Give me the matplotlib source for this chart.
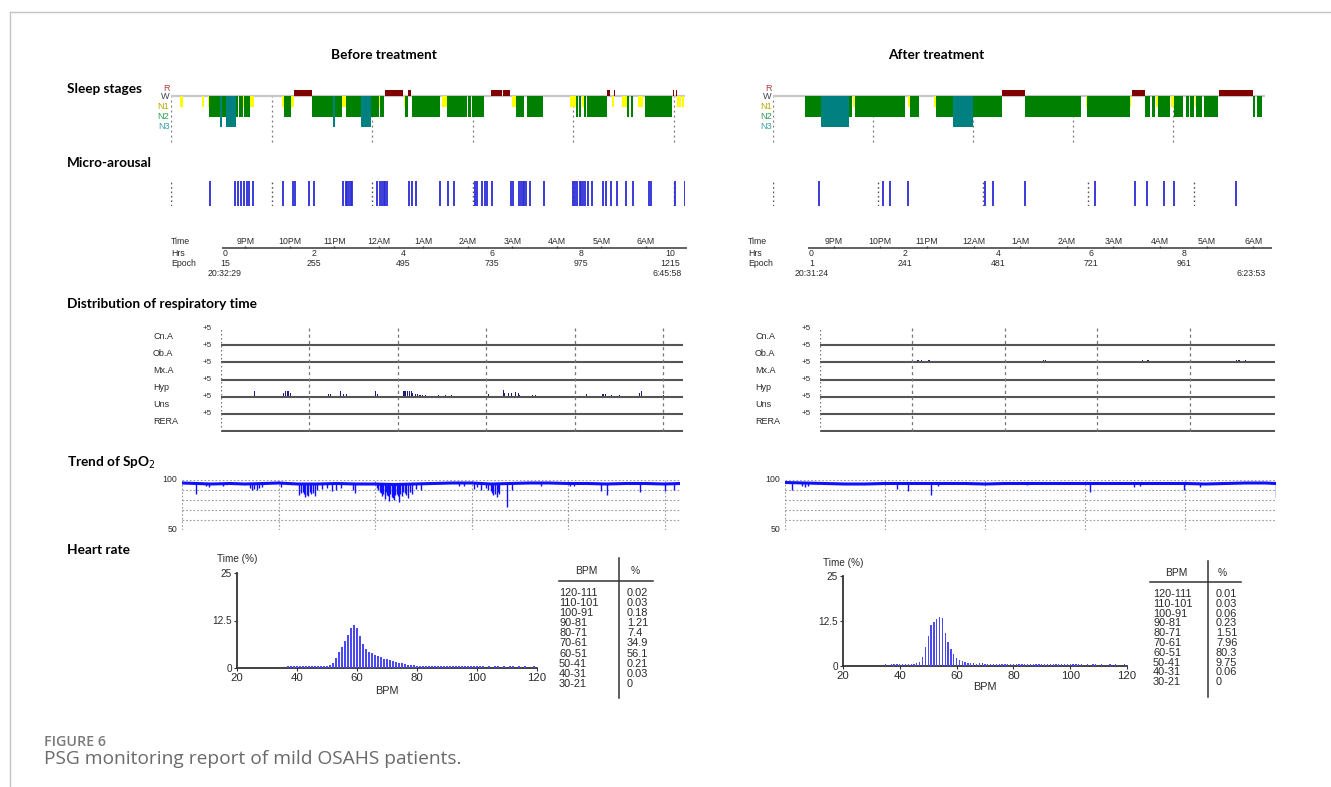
import matplotlib
matplotlib.use("Agg")
import numpy as np
import matplotlib.pyplot as plt
from matplotlib.lines import Line2D

# ---------------------------------------------------------------- data
# hypnogram segments: (start hr, end hr, stage)
before_hypno = [
    (0.18, 0.23, "N1"), (0.62, 0.66, "N1"), (0.73, 0.76, "N1"),
    (0.76, 0.79, "N2"), (0.80, 0.85, "N2"), (0.86, 0.97, "N2"),
    (0.97, 1.02, "N3"), (1.02, 1.10, "N2"), (1.10, 1.29, "N3"),
    (1.29, 1.34, "N2"), (1.35, 1.44, "N2"), (1.44, 1.46, "N1"),
    (1.46, 1.58, "N2"), (1.58, 1.66, "N1"),
    (2.20, 2.24, "N1"), (2.24, 2.39, "N2"), (2.39, 2.45, "N1"), (2.45, 2.80, "R"),
    (2.80, 3.22, "N2"), (3.22, 3.26, "N3"), (3.26, 3.40, "N2"), (3.40, 3.47, "N1"),
    (3.47, 3.59, "N2"), (3.60, 3.78, "N2"), (3.78, 3.97, "N3"), (3.97, 4.07, "N2"),
    (4.08, 4.13, "N2"), (4.13, 4.16, "N1"), (4.16, 4.23, "N2"),
    (4.26, 4.62, "R"), (4.63, 4.66, "N1"), (4.66, 4.71, "N2"), (4.71, 4.77, "R"),
    (4.79, 4.85, "N2"), (4.86, 5.35, "N2"), (5.39, 5.48, "N1"),
    (5.48, 5.60, "N2"), (5.61, 5.89, "N2"), (5.90, 5.97, "N2"), (5.98, 6.22, "N2"),
    (6.37, 6.58, "R"), (6.61, 6.75, "R"), (6.78, 6.86, "N1"), (6.86, 7.01, "N2"),
    (7.08, 7.39, "N2"),
    (7.93, 8.05, "N1"), (8.05, 8.10, "N2"), (8.11, 8.16, "N2"), (8.17, 8.21, "N1"),
    (8.21, 8.26, "N2"), (8.27, 8.67, "N2"), (8.67, 8.73, "R"), (8.76, 8.80, "N1"),
    (8.81, 8.83, "R"), (8.96, 9.07, "N1"), (9.07, 9.10, "N2"), (9.15, 9.19, "N2"),
    (9.29, 9.38, "N1"), (9.42, 9.46, "N2"), (9.47, 9.96, "N2"), (9.98, 10.01, "R"),
    (10.04, 10.07, "R"), (10.07, 10.14, "N1"), (10.17, 10.21, "N1"), (10.22, 10.26, "N2"),
]
after_hypno = [
    (0.64, 0.96, "N2"), (0.96, 1.53, "N3"), (1.53, 1.59, "N2"), (1.61, 1.65, "N1"),
    (1.65, 2.65, "N2"), (2.71, 2.75, "N1"), (2.75, 2.92, "N2"),
    (3.22, 3.26, "N1"), (3.26, 3.61, "N2"), (3.61, 4.01, "N3"), (4.01, 4.58, "N2"),
    (4.58, 5.04, "R"), (5.04, 6.16, "N2"),
    (6.26, 6.29, "N1"), (6.29, 7.14, "N2"), (7.14, 7.16, "N1"), (7.18, 7.44, "R"),
    (7.44, 7.54, "N2"), (7.59, 7.65, "N2"), (7.67, 7.70, "N1"), (7.71, 7.95, "N2"),
    (7.97, 8.02, "N1"), (8.03, 8.20, "N2"), (8.26, 8.32, "N2"), (8.34, 8.42, "N2"),
    (8.44, 8.47, "N1"), (8.47, 8.58, "N2"), (8.63, 8.90, "N2"),
    (8.92, 9.60, "R"), (9.61, 9.65, "N2"), (9.68, 9.79, "N2"),
]
before_end, after_end = 10.22, 9.85

# micro-arousal event times (hr)
before_arousal = [0.77, 1.27, 1.33, 1.39, 1.45, 1.51, 1.56, 1.63, 2.22, 2.42, 2.47,
                  2.75, 2.84, 3.42, 3.47, 3.50, 3.53, 3.57, 3.60, 4.10, 4.15, 4.19,
                  4.23, 4.25, 4.30, 4.74, 4.79, 4.87, 5.35, 5.51, 5.62, 6.05, 6.09,
                  6.18, 6.24, 6.29, 6.38, 6.76, 6.80, 6.91, 6.95, 6.99, 7.02, 7.06,
                  7.13, 7.42, 8.00, 8.04, 8.08, 8.13, 8.15, 8.19, 8.23, 8.29, 8.37,
                  8.58, 8.65, 8.75, 8.87, 9.04, 9.18, 9.51, 9.54, 10.03, 10.22]
after_arousal = [0.93, 2.21, 2.34, 2.70, 4.25, 4.41, 5.05, 6.44, 7.24, 7.49, 7.82,
                 8.02, 9.26]
before_arousal_marks = [0, 2, 4, 6, 8, 10]
after_arousal_marks = [0, 2.11, 4.21, 6.31, 8.42]

# time axis
clock_labels = ["9PM", "10PM", "11PM", "12AM", "1AM", "2AM", "3AM", "4AM", "5AM", "6AM"]
before_first_clock, after_first_clock = 0.458, 0.477
before_hrs = [0, 2, 4, 6, 8, 10]
before_epoch = [15, 255, 495, 735, 975, 1215]
after_hrs = [0, 2, 4, 6, 8]
after_epoch = [1, 241, 481, 721, 961]
before_start, before_stop = "20:32:29", "6:45:58"
after_start, after_stop = "20:31:24", "6:23:53"

# respiratory events
resp_rows = ["Cn.A", "Ob.A", "Mx.A", "Hyp", "Uns", "RERA"]
before_resp_row = "Hyp"
before_resp_t = [0.75, 1.42, 1.46, 1.50, 1.53, 1.57, 2.43, 2.47, 2.70, 2.78, 2.83,
                 3.50, 3.53, 4.14, 4.18, 4.22, 4.26, 4.30, 4.34, 4.40, 4.45, 4.50,
                 4.55, 4.63, 4.91, 5.07, 5.21, 6.06, 6.38, 6.42, 6.50, 6.58, 6.66,
                 6.72, 6.76, 7.04, 7.11, 8.26, 8.64, 8.70, 8.83, 9.01, 9.47, 9.52,
                 10.00]
before_resp_h = [0.35, 0.20, 0.30, 0.35, 0.30, 0.20, 0.15, 0.15, 0.30, 0.15, 0.15,
                 0.30, 0.15, 0.35, 0.35, 0.30, 0.35, 0.30, 0.20, 0.15, 0.15, 0.12,
                 0.12, 0.12, 0.10, 0.10, 0.12, 0.15, 0.40, 0.20, 0.20, 0.20, 0.25,
                 0.20, 0.10, 0.12, 0.12, 0.15, 0.15, 0.15, 0.12, 0.12, 0.20, 0.35,
                 0.12]
after_resp_row = "Ob.A"
after_resp_t = [2.12, 2.19, 2.36, 4.83, 4.88, 6.98, 7.10, 9.02, 9.07, 9.21]
after_resp_h = [0.15, 0.15, 0.15, 0.15, 0.15, 0.15, 0.15, 0.15, 0.15, 0.15]

# SpO2 trend: baseline points and desaturation minima
spo2_before_t = [0, 0.3, 0.6, 1.0, 1.3, 1.7, 2.0, 2.4, 2.8, 3.2, 3.6, 4.0, 4.4, 4.8,
                 5.2, 5.6, 6.0, 6.4, 6.8, 7.2, 7.6, 8.0, 8.4, 8.8, 9.2, 9.6, 10.0, 10.32]
spo2_before_v = [97, 96.5, 96, 96.5, 96, 96.5, 97, 96, 96, 96.5, 96, 96, 95.5, 96,
                 96.5, 97, 97, 96, 96.5, 97, 97, 96.5, 96.5, 96, 96.5, 96.5, 96, 96.5]
dip_before_t = [0.29, 0.50, 0.56, 0.84, 1.40, 1.45, 1.50, 1.55, 1.60, 1.66, 2.05,
                2.43, 2.47, 2.50, 2.52, 2.55, 2.58, 2.62, 2.65, 2.68, 2.72, 2.75,
                2.80, 2.90, 3.00, 3.10, 3.20, 3.29, 3.55, 3.59,
                4.05, 4.07, 4.10, 4.12, 4.15, 4.17, 4.20, 4.22, 4.25, 4.27, 4.30,
                4.32, 4.35, 4.37, 4.40, 4.42, 4.45, 4.47, 4.50, 4.52, 4.55, 4.57,
                4.62, 4.65, 4.68, 4.72, 4.76, 4.85, 4.95, 5.75, 5.85, 6.05,
                6.12, 6.20, 6.30, 6.35, 6.40, 6.42, 6.45, 6.48, 6.52, 6.55, 6.57,
                6.74, 6.83, 7.43, 8.05, 8.12, 8.68, 8.81, 9.50, 10.00, 10.19]
dip_before_v = [86, 94, 93, 94, 92, 90, 91, 90, 92, 93, 93,
                85, 87, 88, 86, 83, 85, 84, 88, 86, 87, 84,
                90, 91, 92, 89, 90, 92, 90, 87,
                92, 90, 88, 87, 84, 86, 81, 88, 85, 84, 79,
                86, 83, 82, 80, 85, 86, 84, 78, 86, 84, 88,
                87, 85, 82, 88, 86, 91, 90, 94, 94, 91,
                93, 90, 92, 90, 89, 87, 85, 86, 83, 88, 86,
                73, 90, 94, 94, 94, 89, 85, 88, 89, 90]
spo2_after_t = [0, 0.4, 0.8, 1.2, 1.6, 2.0, 2.4, 2.8, 3.2, 3.6, 4.0, 4.4, 4.8, 5.2,
                5.6, 6.0, 6.4, 6.8, 7.2, 7.6, 8.0, 8.4, 8.8, 9.2, 9.6, 9.8]
spo2_after_v = [97.5, 97, 96.5, 96, 96, 96.5, 96.5, 96.5, 96.5, 96.5, 96, 96.5, 96.5,
                96.5, 96.5, 96.5, 96.5, 96.5, 96.5, 96.5, 96.5, 96, 96.5, 97, 97, 96.5]
dip_after_t = [0.14, 0.33, 0.40, 0.45, 2.23, 2.46, 2.92, 3.06, 4.83, 6.10, 6.98,
               7.10, 7.97, 8.29, 9.81]
dip_after_v = [90, 94, 93, 94, 91, 89, 85, 94, 95, 88, 93, 94, 90, 93, 82]

# heart-rate histograms (% of time per BPM)
hr_before_bpm = list(range(37, 120))
hr_before_pct = [0.5, 0.5, 0.5, 0.5, 0.5, 0.5, 0.5, 0.5, 0.5, 0.5, 0.5, 0.5, 0.5, 0.6,
                 0.7, 1.2, 2.6, 4.1, 5.6, 7.0, 8.6, 10.4, 11.2, 10.6,
                 8.3, 6.3, 5.0, 4.3, 3.9, 3.5, 3.2, 2.8, 2.5, 2.3,
                 2.1, 1.9, 1.6, 1.4, 1.2, 1.0, 0.9, 0.8, 0.7, 0.6,
                 0.6, 0.55, 0.5, 0.5, 0.5, 0.5, 0.5, 0.5, 0.5, 0.5,
                 0.5, 0.5, 0.5, 0.5, 0.5, 0.5, 0.5, 0.5, 0.5, 0.5,
                 0.5, 0.5, 0.0, 0.5, 0.0, 0.5, 0.5, 0.0, 0.5, 0.0,
                 0.5, 0.5, 0.0, 0.5, 0.0, 0.5, 0.0, 0.0, 0.5]
hr_after_bpm = list(range(35, 120))
hr_after_pct = [0.45, 0.0, 0.45, 0.5, 0.5, 0.5, 0.5, 0.5, 0.5, 0.5, 0.5,
                0.7, 1.2, 2.6, 5.4, 8.4, 11.4, 12.3, 13.1, 13.5, 13.3,
                9.3, 6.8, 4.6, 3.3, 2.1, 1.6, 1.3, 1.1, 0.9, 0.8,
                0.7, 0.6, 0.8, 0.8, 0.6, 0.5, 0.45, 0.45, 0.45, 0.45,
                0.45, 0.45, 0.45, 0.45, 0.45, 0.45, 0.45, 0.45, 0.45, 0.45,
                0.45, 0.45, 0.45, 0.45, 0.45, 0.45, 0.45, 0.45, 0.45, 0.45,
                0.45, 0.45, 0.45, 0.45, 0.45, 0.45, 0.45, 0.45, 0.45, 0.0,
                0.45, 0.0, 0.45, 0.45, 0.0, 0.45, 0.0, 0.0, 0.45, 0.0,
                0.45, 0.0, 0.0, 0.45]

table_bpm = ["120-111", "110-101", "100-91", "90-81", "80-71", "70-61", "60-51",
             "50-41", "40-31", "30-21"]
table_before = ["0.02", "0.03", "0.18", "1.21", "7.4", "34.9", "56.1", "0.21", "0.03", "0"]
table_after = ["0.01", "0.03", "0.06", "0.23", "1.51", "7.96", "80.3", "9.75", "0.06", "0"]

# ---------------------------------------------------------------- style
W, H = 1331, 787
HEAD = ["Lato", "DejaVu Sans"]
REP = ["Liberation Sans", "DejaVu Sans"]
CAP = ["Open Sans", "DejaVu Sans"]
TXT = "#2a2a2a"

STAGE_DEPTH = {"R": 0.6, "N1": -1.05, "N2": -2.0, "N3": -3.0}
STAGE_COLOR = {"R": "#800000", "N1": "#ffff00", "N2": "#008000", "N3": "#008080"}
STAGE_LABELS = [("R", 0.75, "#b04040"), ("W", 0.0, "#404050"), ("N1", -1.0, "#b8a800"),
                ("N2", -2.0, "#2e9a50"), ("N3", -3.0, "#3aa0a8")]

fig = plt.figure(figsize=(W / 100, H / 100), dpi=100)


def px_ax(x0, y0, x1, y1):
    ax = fig.add_axes([x0 / W, 1 - y1 / H, (x1 - x0) / W, (y1 - y0) / H])
    ax.set_axis_off()
    return ax


def ftext(x, y, s, **kw):
    kw.setdefault("va", "center")
    fig.text(x / W, 1 - y / H, s, **kw)


def draw_hypno(box, segs, end, grid):
    ax = px_ax(*box)
    ax.set_xlim(0, end)
    ax.set_ylim(-4.6, 1.0)
    ax.hlines(0, 0, end, color="#c8c8c8", lw=1.6, zorder=1)
    ax.vlines(grid, -4.5, 0, color="#777777", ls=(0, (1.5, 2.5)), lw=0.9, zorder=0)
    for s, e, st in segs:
        ax.bar(s, STAGE_DEPTH[st], width=e - s, bottom=0, align="edge",
               color=STAGE_COLOR[st], lw=0, zorder=2)
    for lab, y, c in STAGE_LABELS:
        ax.text(-0.003, y, lab, transform=ax.get_yaxis_transform(), ha="right",
                va="center", fontsize=6.6, color=c, family=REP)


def draw_arousal(box, times, marks, end):
    ax = px_ax(*box)
    ax.set_xlim(0, end)
    ax.set_ylim(0, 1)
    ax.vlines(marks, 0, 1, color="#555555", ls=(0, (1.2, 2)), lw=1.0)
    ax.vlines(times, 0, 1, color="#2b2bd6", lw=1.3)


def draw_time(box, first, hrs, epochs, start, stop, line_end, label_x):
    ax = px_ax(*box)
    ax.set_xlim(0, 10)
    ax.set_ylim(282, 232)
    ax.hlines(247.5, -0.07, line_end, color="#555555", lw=1.3, clip_on=False)
    ticks = [first + k for k in range(len(clock_labels))]
    ax.vlines(ticks, 246, 247.5, color="#333333", lw=1.0)
    for t, lab in zip(ticks, clock_labels):
        ax.text(t, 241, lab, ha="center", va="center", fontsize=6.3, color=TXT, family=REP)
    for h, ep in zip(hrs, epochs):
        ax.text(h, 254, str(h), ha="center", va="center", fontsize=6.3, color=TXT, family=REP)
        ax.text(h, 264, str(ep), ha="center", va="center", fontsize=6.3, color=TXT, family=REP)
    ax.text(0, 274, start, ha="center", va="center", fontsize=6.3, color=TXT, family=REP)
    ax.text(line_end - 0.45, 274, stop, ha="center", va="center", fontsize=6.3,
            color=TXT, family=REP)
    for y, lab in zip([241, 253, 263.5], ["Time", "Hrs", "Epoch"]):
        ftext(label_x, y, lab, fontsize=6.3, color=TXT, family=REP)


def draw_resp(box, end, row, ev_t, ev_h, label_x):
    ax = px_ax(*box)
    ax.set_xlim(0, end)
    ax.set_ylim(-0.05, 6.05)
    ax.hlines(range(6), 0, end, color="#555555", lw=1.5)
    ax.vlines(0, 0, 6, color="#777777", ls=(0, (1.2, 2)), lw=0.9)
    ax.vlines([g for g in range(2, 11, 2) if g < end], 0, 6, color="#777777",
              ls=(0, (2.5, 2.5)), lw=0.9)
    base = 5 - resp_rows.index(row)
    ax.bar(ev_t, ev_h, width=0.025, bottom=base, color="#1c1c7a", lw=0)
    for i, name in enumerate(resp_rows):
        ax.text(-0.02, 6 - i, "+5", transform=ax.get_yaxis_transform(), ha="right",
                va="center", fontsize=5.8, color=TXT, family=REP)
        yy = box[3] - (box[3] - box[1]) * (5.55 - i + 0.05) / 6.1
        ftext(label_x, yy, name, fontsize=6.5, color=TXT, family=REP)


def draw_spo2(box, end, base_t, base_v, dip_t, dip_v, grid):
    ax = px_ax(*box)
    ax.set_xlim(0, end)
    ax.set_ylim(50, 100)
    for y in [50, 60, 70, 80, 90, 100]:
        ax.hlines(y, 0, end, color="#9a9a9a", ls=(0, (1.5, 1.8)), lw=0.8)
    ax.vlines(grid, 50, 100, color="#9a9a9a", ls=(0, (1.5, 1.8)), lw=0.8)
    ax.plot(base_t, base_v, color="#1010ff", lw=2.2, solid_joinstyle="miter")
    base_at = np.interp(dip_t, base_t, base_v)
    ax.vlines(dip_t, dip_v, base_at, color="#1010ff", lw=1.0)
    ax.text(-0.01, 100, "100", transform=ax.get_yaxis_transform(), ha="right",
            va="center", fontsize=6.3, color=TXT, family=REP)
    ax.text(-0.01, 50, "50", transform=ax.get_yaxis_transform(), ha="right",
            va="center", fontsize=6.3, color=TXT, family=REP)


def draw_hist(box, bpm, pct, label_dy, xlabel_pad):
    ax = fig.add_axes([box[0] / W, 1 - box[3] / H, (box[2] - box[0]) / W,
                       (box[3] - box[1]) / H])
    ax.bar(bpm, pct, width=0.45, color="#4a4af0", lw=0, zorder=3)
    ax.set_xlim(20, 120)
    ax.set_ylim(0, 25)
    for s in ["top", "right"]:
        ax.spines[s].set_visible(False)
    for s in ["left", "bottom"]:
        ax.spines[s].set_color("#333333")
        ax.spines[s].set_linewidth(1.3)
    ax.set_yticks([0, 12.5, 25], ["0", "12.5", "25"])
    ax.set_xticks([20, 40, 60, 80, 100, 120])
    ax.tick_params(axis="both", length=2, width=0.8, color="#333333", labelcolor=TXT,
                   pad=1.5)
    ax.tick_params(axis="x", labelsize=8.2)
    ax.tick_params(axis="y", labelsize=7.2)
    for t in ax.get_xticklabels() + ax.get_yticklabels():
        t.set_family(REP)
    ax.set_xlabel("BPM", fontsize=7.8, color=TXT, family=REP, labelpad=xlabel_pad)
    ax.text(0, 1 + label_dy, "Time (%)", transform=ax.transAxes, ha="center",
            va="center", fontsize=7.2, color=TXT, family=REP)
    ax.patch.set_alpha(0)


def draw_table(values, bpm_x, pct_x, x_line, x0, x1, col_l, col_r, head_y, line_y,
               vline, row_y, row_dy):
    ftext(bpm_x, head_y, "BPM", ha="center", fontsize=7.4, color=TXT, family=REP)
    ftext(pct_x, head_y, "%", ha="left", fontsize=7.4, color=TXT, family=REP)
    fig.add_artist(Line2D([x0 / W, x1 / W], [1 - line_y / H] * 2, color="#333333", lw=1.1))
    fig.add_artist(Line2D([x_line / W] * 2, [1 - vline[0] / H, 1 - vline[1] / H],
                          color="#333333", lw=1.1))
    for i, (b, v) in enumerate(zip(table_bpm, values)):
        y = row_y + row_dy * i
        ftext(col_l, y, b, ha="left", fontsize=7.9, color=TXT, family=REP)
        ftext(col_r, y, v, ha="left", fontsize=7.9, color=TXT, family=REP)


# ---------------------------------------------------------------- frame + titles
fig.add_artist(Line2D([10 / W, 1], [1 - 12 / H] * 2, color="#c4c4c4", lw=1.0))
fig.add_artist(Line2D([10 / W] * 2, [1 - 12 / H, 0], color="#c4c4c4", lw=1.0))

ftext(384, 55, "Before treatment", ha="center", fontsize=9.8, weight="bold", family=HEAD)
ftext(936, 55, "After treatment", ha="center", fontsize=9.8, weight="bold", family=HEAD)
for y, lab in [(89, "Sleep stages"), (163, "Micro-arousal"),
               (304, "Distribution of respiratory time"), (463, "Trend of SpO$_2$"),
               (550, "Heart rate")]:
    ftext(67, y, lab, ha="left", fontsize=9.8, weight="bold", family=HEAD)

# ---------------------------------------------------------------- before
draw_hypno((171, 85.7, 685, 143.4), before_hypno, before_end, [0, 2, 4, 6, 8, 10])
draw_arousal((171, 181, 685, 206), before_arousal, before_arousal_marks, before_end)
draw_time((225, 232, 670, 282), before_first_clock, before_hrs, before_epoch,
          before_start, before_stop, 10.38, 171)
draw_resp((221, 327.5, 683, 431.5), 10.45, before_resp_row, before_resp_t,
          before_resp_h, 153)
draw_spo2((182, 480, 680, 530), 10.32, spo2_before_t, spo2_before_v, dip_before_t,
          dip_before_v, [0, 2, 4, 6, 8, 10])
draw_hist((237, 573, 537, 668), hr_before_bpm, hr_before_pct, 0.15, 2)
draw_table(table_before, 586, 631, 619, 559, 653, 559, 627, 571, 581, (558, 698),
           593, 10.1)

# ---------------------------------------------------------------- after
draw_hypno((773, 85.7, 1265, 143.4), after_hypno, after_end, [0, 2, 4, 6, 8])
draw_arousal((773, 181, 1265, 206), after_arousal, after_arousal_marks, after_end)
draw_time((811.5, 232, 1277.5, 282), after_first_clock, after_hrs, after_epoch,
          after_start, after_stop, 9.88, 748)
draw_resp((820, 327.5, 1275, 431.5), 9.85, after_resp_row, after_resp_t,
          after_resp_h, 755)
draw_spo2((785, 480, 1276, 530), 9.81, spo2_after_t, spo2_after_v, dip_after_t,
          dip_after_v, [0, 2, 4, 6, 8])
draw_hist((843, 576, 1127, 666), hr_after_bpm, hr_after_pct, 0.15, 1)
draw_table(table_after, 1176, 1218, 1208, 1150, 1241, 1153, 1216, 573, 582, (561, 697),
           594, 9.8)

# ---------------------------------------------------------------- caption
ftext(44, 742, "FIGURE 6", ha="left", fontsize=10.3, color="#7a7a7a", weight="semibold",
      family=CAP)
ftext(44, 759, "PSG monitoring report of mild OSAHS patients.", ha="left", fontsize=13.8,
      color="#6a6a6a", family=CAP)

fig.savefig("out.png", dpi=100)
